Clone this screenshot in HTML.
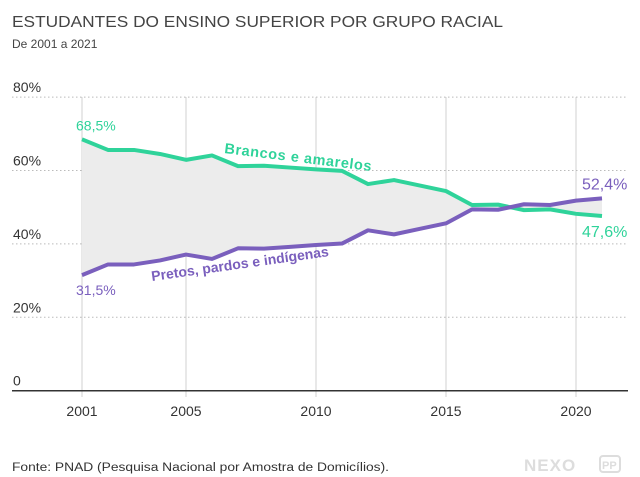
<!DOCTYPE html>
<html><head><meta charset="utf-8"><style>
body{margin:0;background:#fff;}
svg{display:block;font-family:"Liberation Sans",sans-serif;}
</style></head><body>
<svg id="chart" width="640" height="477" viewBox="0 0 640 477">
<text x="12" y="27" font-size="16" fill="#444" textLength="491" lengthAdjust="spacingAndGlyphs">ESTUDANTES DO ENSINO SUPERIOR POR GRUPO RACIAL</text>
<text x="12" y="48" font-size="12" fill="#444">De 2001 a 2021</text>
<g id="grid"></g>
<g id="area"></g>
<g id="lines"></g>
<g id="labels"></g>
<text x="12" y="471" font-size="11.5" fill="#333" textLength="377" lengthAdjust="spacingAndGlyphs">Fonte: PNAD (Pesquisa Nacional por Amostra de Domicílios).</text>
<text x="524" y="471" font-size="17" font-weight="bold" fill="#ddd" letter-spacing="1">NEXO</text>
<rect x="600" y="456" width="20" height="16" rx="3" fill="none" stroke="#ddd" stroke-width="2"/>
<text x="602" y="469" font-size="11" font-weight="bold" fill="#ddd">PP</text>
</svg>
<script>
const years=[2001,2002,2003,2004,2005,2006,2007,2008,2009,2010,2011,2012,2013,2014,2015,2016,2017,2018,2019,2020,2021];
const brancos=[68.5,65.6,65.6,64.5,62.9,64.1,61.2,61.3,60.8,60.3,59.9,56.3,57.4,55.9,54.4,50.6,50.7,49.2,49.4,48.2,47.6];
const pretos=[31.5,34.4,34.4,35.5,37.1,35.9,38.8,38.7,39.2,39.7,40.1,43.7,42.6,44.1,45.6,49.4,49.3,50.8,50.6,51.8,52.4];
const yTicks=[0,20,40,60,80];
const yTickLabels=["0","20%","40%","60%","80%"];
const xTicks=[2001,2005,2010,2015,2020];
const NS="http://www.w3.org/2000/svg";
const xs=yr=>82+(yr-2001)*26;
const yv=v=>390.7-v*3.67;
function mk(tag,attrs,parent,txt){const e=document.createElementNS(NS,tag);for(const k in attrs)e.setAttribute(k,attrs[k]);if(txt!==undefined)e.textContent=txt;parent.appendChild(e);return e;}
const grid=document.getElementById('grid');
xTicks.forEach(t=>{
  const l=mk('line',{x1:xs(t),x2:xs(t),y1:97,y2:397,stroke:'#d0d0d0','stroke-width':1},grid);
  
  
  const tt=mk('text',{x:xs(t),y:416,'font-size':14,fill:'#333','text-anchor':'middle'},grid,String(t));
  
  
});
yTicks.forEach((t,i)=>{
  if(t>0){const l=mk('line',{x1:12,x2:628,y1:yv(t),y2:yv(t),stroke:'#bbb','stroke-width':1,'stroke-dasharray':'1.5,2.5'},grid);
  
  }
  const tt=mk('text',{x:13,y:yv(t)-5,'font-size':14,fill:'#333'},grid,yTickLabels[i]);
  
  
});
const ax=mk('line',{x1:12,x2:628,y1:390.7,y2:390.7,stroke:'#333','stroke-width':1.5},grid);


const topPts=years.map((yr,i)=>xs(yr)+','+yv(brancos[i]));
const botPts=years.map((yr,i)=>xs(yr)+','+yv(pretos[i]));
const area=mk('polygon',{points:topPts.concat(botPts.slice().reverse()).join(' '),fill:'#ececec'},document.getElementById('area'));


const lines=document.getElementById('lines');
const lb=mk('polyline',{points:topPts.join(' '),fill:'none',stroke:'#2fd39a','stroke-width':4,'stroke-linejoin':'round'},lines);


const lp=mk('polyline',{points:botPts.join(' '),fill:'none',stroke:'#7a5fbd','stroke-width':4,'stroke-linejoin':'round'},lines);


const L=document.getElementById('labels');
const n=years.length-1;
const a1=mk('text',{x:xs(2001)-6,y:yv(brancos[0])-9,'font-size':14,fill:'#2fd39a'},L,'68,5%');

const a2=mk('text',{x:xs(2001)-6,y:yv(pretos[0])+20,'font-size':14,fill:'#7a5fbd'},L,'31,5%');

const a3=mk('text',{x:582,y:yv(pretos[n])-9,'font-size':16,fill:'#7a5fbd'},L,'52,4%');

const a4=mk('text',{x:582,y:yv(brancos[n])+21,'font-size':16,fill:'#2fd39a'},L,'47,6%');

const s1=mk('text',{x:224,y:153,'font-size':14.5,'font-weight':'bold','letter-spacing':0.6,fill:'#2fd39a',transform:'rotate(7 224 153)'},L,'Brancos e amarelos');

const s2=mk('text',{x:152,y:281,'font-size':14,'font-weight':'bold',fill:'#7a5fbd',transform:'rotate(-8 152 281)'},L,'Pretos, pardos e indígenas');

</script>
</body></html>
